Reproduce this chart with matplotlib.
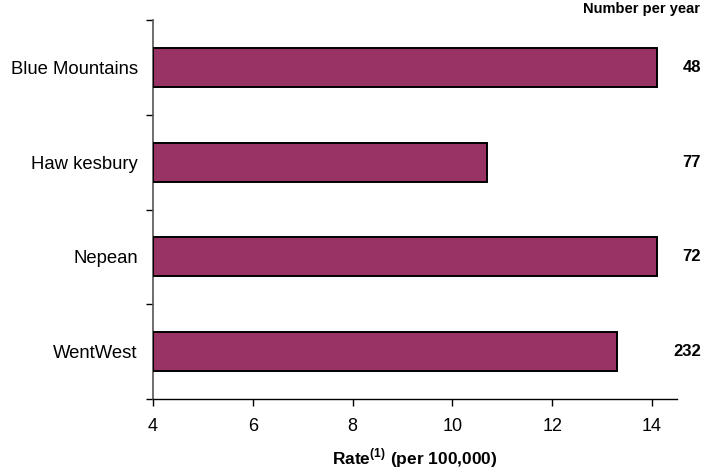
import matplotlib
matplotlib.use("Agg")
import matplotlib.pyplot as plt
from matplotlib.ticker import FixedLocator, NullFormatter

plt.rcParams["font.family"] = ["Liberation Sans", "DejaVu Sans"]
plt.rcParams["mathtext.fontset"] = "custom"
plt.rcParams["mathtext.rm"] = "Liberation Sans"
plt.rcParams["mathtext.bf"] = "Liberation Sans:bold"

regions = ["Blue Mountains", "Haw kesbury", "Nepean", "WentWest"]
rates = [14.1, 10.7, 14.1, 13.3]
per_year = ["48", "77", "72", "232"]
x_ticks = [4, 6, 8, 10, 12, 14]

W, H = 702, 474
fig = plt.figure(figsize=(W / 100, H / 100), dpi=100)
ax = fig.add_axes([153 / W, 1 - 399 / H, (677 - 153) / W, (399 - 20) / H])

ypos = list(range(len(regions)))
ax.barh(ypos, [r - 4 for r in rates], left=4, height=0.41,
        color="#993366", edgecolor="black", linewidth=1.4, zorder=3)

ax.set_xlim(4, 14.5)
ax.set_ylim(len(regions) - 0.5, -0.5)

ax.set_xticks(x_ticks)
ax.set_xticklabels([str(t) for t in x_ticks], fontsize=13)
ax.tick_params(axis="x", direction="out", length=5, width=1, pad=9, color="black")

ax.set_yticks(ypos)
ax.set_yticklabels(regions, fontsize=13.3)
ax.tick_params(axis="y", which="major", length=0, pad=11)
ax.yaxis.set_minor_locator(FixedLocator([i - 0.5 for i in range(len(regions) + 1)]))
ax.yaxis.set_minor_formatter(NullFormatter())
ax.tick_params(axis="y", which="minor", direction="out", length=5, width=1, color="black")

for s in ("top", "right"):
    ax.spines[s].set_visible(False)
ax.spines["left"].set_color("#555555")
ax.spines["left"].set_linewidth(1.2)
ax.spines["bottom"].set_color("black")
ax.spines["bottom"].set_linewidth(1.0)

ax.set_xlabel(r"Rate$^{\bf (1)}$ (per 100,000)", fontsize=12.5, fontweight="bold", labelpad=8)

# counts per year down the right-hand margin
for y, n in zip(ypos, per_year):
    ax.annotate(n, xy=(1.0, y), xycoords=("figure fraction", "data"),
                xytext=(-1, 0), textcoords="offset pixels",
                ha="right", va="center", fontsize=12, fontweight="bold")

fig.text(700 / W, 1 - 9 / H, "Number per year", ha="right", va="center",
         fontsize=10.5, fontweight="bold")

fig.savefig("out.png", dpi=100)
